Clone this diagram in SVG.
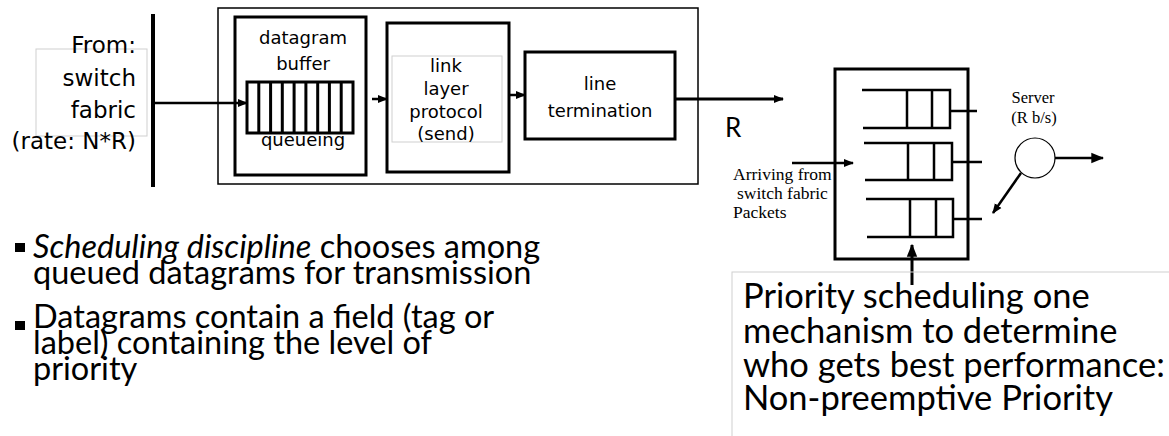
<svg xmlns="http://www.w3.org/2000/svg" width="1169" height="436" viewBox="0 0 1169 436">
<defs>
<marker id="ah" viewBox="0 0 10 10" refX="9" refY="5" markerWidth="10" markerHeight="10" markerUnits="userSpaceOnUse" orient="auto">
<path d="M0,1 L10,5 L0,9 Z" fill="#000"/>
</marker>
<marker id="ahb" viewBox="0 0 10 10" refX="9" refY="5" markerWidth="13" markerHeight="13" markerUnits="userSpaceOnUse" orient="auto">
<path d="M0,1 L10,5 L0,9 Z" fill="#000"/>
</marker>
</defs>
<style>
.box{fill:none;stroke:#000;stroke-width:3}
.thin{fill:none;stroke:#000;stroke-width:1.5}
.gray{fill:none;stroke:#cfcfcf;stroke-width:1}
.ln{fill:none;stroke:#000;stroke-width:2.5}
.sans{font-family:"DejaVu Sans",Verdana,sans-serif;fill:#000}
.cal{font-family:Lato,"Open Sans",sans-serif;fill:#000}
.ser{font-family:"Liberation Serif","Times New Roman",serif;fill:#000}
</style>

<g id="from">
<rect class="gray" x="36" y="49" width="111" height="87"/>
<text class="sans" font-size="23" text-anchor="end"><tspan x="136" y="53">From:</tspan><tspan x="136" y="86">switch</tspan><tspan x="136" y="118">fabric</tspan><tspan x="136" y="149">(rate: N*R)</tspan></text>
<line x1="153" y1="14" x2="153" y2="187" stroke="#000" stroke-width="4"/>
</g>

<g id="output-port">
<rect class="thin" x="218" y="8" width="480" height="176"/>
</g>

<g id="datagram-buffer">
<rect class="box" x="235" y="17" width="131" height="158"/>
<text class="sans" font-size="18" text-anchor="middle"><tspan x="303" y="44">datagram</tspan><tspan x="303" y="70">buffer</tspan></text>
<rect class="box" x="247" y="82" width="106" height="51"/>
<path class="box" d="M258.8 82V133M270.6 82V133M282.3 82V133M294.1 82V133M305.9 82V133M317.7 82V133M329.4 82V133M341.2 82V133"/>
<text class="sans" font-size="18" text-anchor="middle" x="303" y="146">queueing</text>
</g>

<g id="link-layer">
<rect class="box" x="387" y="23" width="122" height="149"/>
<rect class="gray" x="392" y="56" width="110" height="86"/>
<text class="sans" font-size="18" text-anchor="middle"><tspan x="446" y="72">link</tspan><tspan x="446" y="95">layer</tspan><tspan x="446" y="118">protocol</tspan><tspan x="446" y="140">(send)</tspan></text>
</g>

<g id="line-termination">
<rect class="box" x="525" y="52" width="150" height="87"/>
<text class="sans" font-size="18" text-anchor="middle"><tspan x="600" y="90">line</tspan><tspan x="600" y="117">termination</tspan></text>
</g>

<g id="rate-label">
<text class="cal" font-size="26" x="725" y="137">R</text>
</g>

<g id="priority-queues">
<rect class="box" x="835" y="69" width="133" height="190"/>
<path class="ln" d="M862 90H950V128H863M907 90V128M932 90V128M950 111H977"/>
<path class="ln" d="M864 143H952V180H865M908 143V180M934 143V180M952 162H982"/>
<path class="ln" d="M866 199H953V237H867M910 199V237M936 199V237M953 219H982"/>
</g>

<g id="arriving">
<text class="ser" font-size="17.5"><tspan x="733" y="180">Arriving from</tspan><tspan x="737" y="199">switch fabric</tspan><tspan x="733" y="218">Packets</tspan></text>
</g>

<g id="server">
<text class="ser" font-size="16.5" text-anchor="middle"><tspan x="1033" y="103">Server</tspan><tspan x="1034" y="123">(R b/s)</tspan></text>
<circle cx="1035" cy="158" r="20" fill="none" stroke="#000" stroke-width="1.2"/>
</g>

<g id="connectors">
<line class="ln" x1="155" y1="103" x2="247" y2="103" marker-end="url(#ah)"/>
<line class="ln" x1="372" y1="99" x2="387" y2="99" marker-end="url(#ah)"/>
<line class="ln" x1="509" y1="95" x2="525" y2="95" marker-end="url(#ah)"/>
<line class="box" x1="675" y1="99" x2="783" y2="99" marker-end="url(#ah)"/>
<line class="ln" x1="792" y1="163" x2="853" y2="163" marker-end="url(#ah)"/>
<line class="ln" x1="1055" y1="158" x2="1103" y2="158" marker-end="url(#ahb)"/>
<line class="ln" x1="1021" y1="173" x2="993" y2="213" marker-end="url(#ah)"/>
<line class="box" x1="912" y1="285" x2="912" y2="245" marker-end="url(#ahb)"/>
</g>

<g id="bullets">
<rect x="15" y="243" width="10" height="9" fill="#000"/>
<text class="cal" font-size="32.5"><tspan x="33" y="258" font-style="italic">Scheduling discipline</tspan><tspan> chooses among</tspan><tspan x="33" y="284">queued datagrams for transmission</tspan></text>
<rect x="15" y="321" width="10" height="9" fill="#000"/>
<text class="cal" font-size="32.5"><tspan x="33" y="328">Datagrams contain a field (tag or</tspan><tspan x="33" y="354">label)  containing the level of</tspan><tspan x="33" y="380">priority</tspan></text>
</g>

<g id="note">
<rect class="gray" x="732" y="272" width="440" height="170"/>
<text class="cal" font-size="34.5"><tspan x="743" y="308">Priority scheduling one</tspan><tspan x="743" y="343">mechanism to determine</tspan><tspan x="743" y="377">who gets best performance:</tspan><tspan x="743" y="410">Non-preemptive Priority</tspan></text>
</g>
</svg>
